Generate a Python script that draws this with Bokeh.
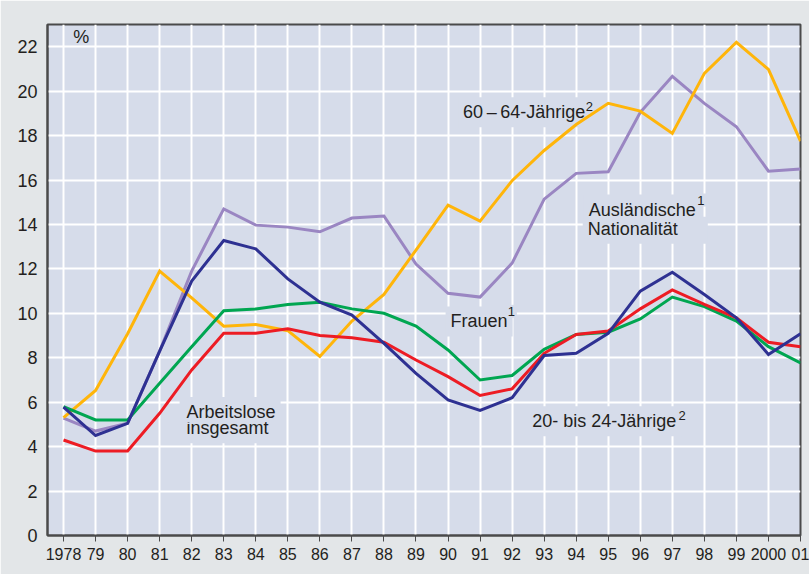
from bokeh.plotting import figure
from bokeh.models import FixedTicker, Label, Range1d
from bokeh.embed import file_html
from bokeh.resources import INLINE

# ---------------- data ----------------
years = list(range(1978, 2002))
year_labels = ["1978", "79", "80", "81", "82", "83", "84", "85", "86", "87", "88", "89",
               "90", "91", "92", "93", "94", "95", "96", "97", "98", "99", "2000", "01"]
y_ticks = [0, 2, 4, 6, 8, 10, 12, 14, 16, 18, 20, 22]

# Ausländische Nationalität (1)
auslaender = [5.28, 4.7, 5.05, 8.3, 11.9, 14.7, 13.97, 13.88, 13.67, 14.29, 14.38, 12.22,
              10.9, 10.73, 12.26, 15.14, 16.3, 16.37, 19.05, 20.67, 19.45, 18.4, 16.4, 16.5]
# 60 - 64-Jährige (2)
aeltere = [5.31, 6.53, 9.08, 11.9, 10.7, 9.42, 9.5, 9.22, 8.06, 9.65, 10.85, 12.85,
           14.87, 14.15, 15.97, 17.33, 18.5, 19.45, 19.1, 18.1, 20.8, 22.2, 20.98, 17.75]
# Frauen (1)
frauen = [5.8, 5.2, 5.2, 6.85, 8.5, 10.12, 10.2, 10.4, 10.5, 10.2, 10.0, 9.43,
          8.35, 7.0, 7.2, 8.38, 9.05, 9.15, 9.75, 10.73, 10.3, 9.65, 8.5, 7.77]
# Arbeitslose insgesamt
insgesamt = [4.3, 3.8, 3.8, 5.5, 7.45, 9.1, 9.1, 9.3, 9.0, 8.9, 8.7, 7.9,
             7.15, 6.3, 6.6, 8.2, 9.05, 9.2, 10.2, 11.05, 10.4, 9.8, 8.7, 8.5]
# 20- bis 24-Jährige (2)
junge = [5.78, 4.5, 5.05, 8.3, 11.45, 13.28, 12.9, 11.55, 10.5, 9.92, 8.65, 7.3,
         6.1, 5.63, 6.2, 8.1, 8.2, 9.1, 11.0, 11.85, 10.85, 9.8, 8.15, 9.08]

series = [
    (auslaender, "#9a86c2"),
    (aeltere, "#ffb50a"),
    (frauen, "#00a651"),
    (insgesamt, "#ed1c24"),
    (junge, "#2e3192"),
]

# ---------------- styling ----------------
PLOT_BG = "#d6dcea"
OUTER_BG = "#e3e6e8"
AXIS_C = "#4a4a4a"
TEXT_C = "#231f20"
FONT = "Liberation Sans"

X0, X1 = 1977.5, 2001
Y0, Y1 = 0, 23.0
FRAME_W, FRAME_H = 753, 511
PX_X = FRAME_W / (X1 - X0)
PX_Y = FRAME_H / (Y1 - Y0)

p = figure(width=809, height=574,
           x_range=Range1d(X0, X1), y_range=Range1d(Y0, Y1),
           output_backend="svg", toolbar_location=None,
           min_border_left=47, min_border_right=9, min_border_top=24, min_border_bottom=39)

p.background_fill_color = PLOT_BG
p.border_fill_color = OUTER_BG
p.outline_line_color = AXIS_C
p.outline_line_width = 2

# grid
p.xgrid.ticker = FixedTicker(ticks=years)
p.ygrid.ticker = FixedTicker(ticks=y_ticks)
for g in (p.xgrid, p.ygrid):
    g.grid_line_color = "white"
    g.grid_line_width = 2

# x axis
xa = p.xaxis[0]
xa.ticker = FixedTicker(ticks=years)
xa.major_label_overrides = {y: l for y, l in zip(years, year_labels)}
xa.axis_line_color = AXIS_C
xa.axis_line_width = 2
xa.major_tick_line_color = AXIS_C
xa.major_tick_out = 6
xa.major_tick_in = 0
xa.minor_tick_line_color = None
xa.major_label_text_font = FONT
xa.major_label_text_font_size = "16px"
xa.major_label_text_color = TEXT_C
xa.major_label_standoff = 6

# y axis
ya = p.yaxis[0]
ya.ticker = FixedTicker(ticks=y_ticks)
ya.axis_line_color = AXIS_C
ya.axis_line_width = 2
ya.major_tick_out = 0
ya.major_tick_in = 0
ya.minor_tick_line_color = None
ya.major_label_text_font = FONT
ya.major_label_text_font_size = "18px"
ya.major_label_text_color = TEXT_C
ya.major_label_standoff = 10

# lines
for vals, col in series:
    p.line(years, vals, line_color=col, line_width=3, line_join="miter")

# labels: x = left edge of text (data), y = baseline (data); padding compensated
def add_label(text, x, y, size="18px", bg=True, pad=(0, 0, 0, 0)):
    left, right, top, bottom = pad
    xs = x - left / PX_X
    ys = y + top / PX_Y
    kw = dict(x=xs, y=ys, text=text, text_font=FONT, text_font_size=size,
              text_color=TEXT_C, text_baseline="alphabetic", level="underlay")
    if bg:
        kw.update(background_fill_color=PLOT_BG, background_fill_alpha=1.0,
                  padding=dict(left=left, right=right, top=top, bottom=bottom))
    p.add_layout(Label(**kw))

P5 = (5, 5, 5, 5)
add_label("%", 1978.30, 22.42, bg=False)
# second lines first, so that the first line's box does not hide them
add_label("insgesamt", 1981.84, 4.60, pad=P5)
add_label("Arbeitslose", 1981.84, 5.45, pad=(7, 5, 5, 0))
add_label("Frauen", 1990.08, 9.41, pad=P5)
add_label("1", 1991.86, 10.0, size="13px", pad=(2, 2, 2, 2))
add_label("Nationalität", 1994.36, 13.65, pad=(5, 30, 2, 5))
add_label("Ausländische", 1994.39, 14.56, pad=(5, 5, 5, 0))
add_label("1", 1997.78, 15.01, size="13px", pad=(2, 2, 2, 2))
add_label("60\u2009–\u200964-Jährige", 1990.47, 18.83, pad=P5)
add_label("2", 1994.30, 19.27, size="13px", pad=(1, 1, 1, 1))
add_label("20- bis 24-Jährige", 1992.63, 4.92, pad=P5)
add_label("2", 1997.19, 5.33, size="13px", pad=(2, 2, 2, 2))

open("out.html", "w").write(file_html(p, INLINE))
